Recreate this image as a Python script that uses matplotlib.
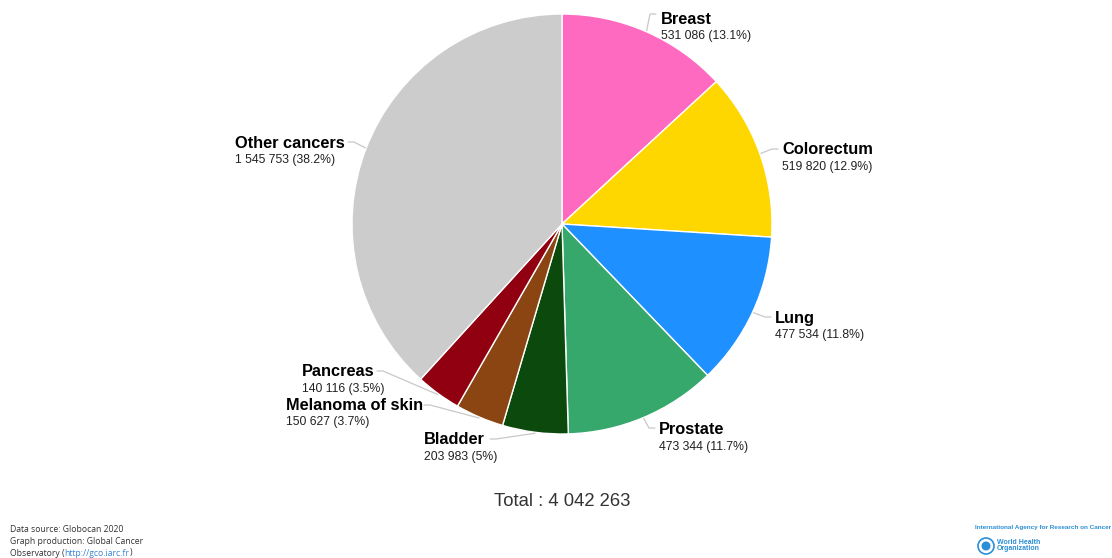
import matplotlib.pyplot as plt
import matplotlib.patches as mpatches
import numpy as np

plt.rcParams['font.family'] = ['Liberation Sans', 'DejaVu Sans']

cancers = ["Breast", "Colorectum", "Lung", "Prostate", "Bladder",
           "Melanoma of skin", "Pancreas", "Other cancers"]
cases = [531086, 519820, 477534, 473344, 203983, 150627, 140116, 1545753]
colors = ["#ff6ac1", "#ffd700", "#1e90ff", "#36a86c", "#0b4a0c",
          "#8b4513", "#900010", "#cccccc"]

W, H = 1112, 558


def Y(y):
    # pixel row -> data y
    return H - y


def fmt(n):
    return "{:,}".format(n).replace(",", " ")


total = sum(cases)
cx, cy, r = 562, Y(224), 210

fig = plt.figure(figsize=(W / 100, H / 100), dpi=100)
ax = fig.add_axes([0, 0, 1, 1])
ax.pie(cases, colors=colors, startangle=90, counterclock=False,
       center=(cx, cy), radius=r,
       wedgeprops=dict(edgecolor="white", linewidth=1))
ax.set_xlim(0, W)
ax.set_ylim(0, H)
ax.set_aspect("equal")
ax.axis("off")

# label anchors (left x, name row) and connector ends, in pixels
label_pos = [(661, 19), (782, 150), (775, 318), (659, 430),
             (424, 440), (286, 405), (302, 372), (235, 143)]
conn_end = [(656, 14), (778, 149), (771, 317), (655, 428),
            (490, 439), (424, 405), (377, 371), (348, 142)]

cum = np.cumsum([0] + cases[:-1])
for i, name in enumerate(cancers):
    mid = (cum[i] + cases[i] / 2) / total
    ang = np.deg2rad(90 - 360 * mid)
    ex, ey = cx + (r + 1) * np.cos(ang), cy + (r + 1) * np.sin(ang)
    kx, ky = conn_end[i]
    bx = kx + (6 if kx < cx else -6)
    ax.plot([ex, bx, kx], [ey, Y(ky), Y(ky)], color="#c8c8c8", lw=0.9,
            solid_capstyle="round")
    lx, ly = label_pos[i]
    pct = round(100 * cases[i] / total, 1)
    ax.text(lx, Y(ly), name, fontsize=11.8, fontweight="bold",
            color="black", va="center", ha="left")
    ax.text(lx, Y(ly + 17), "%s (%g%%)" % (fmt(cases[i]), pct),
            fontsize=8.8, color="#222222", va="center", ha="left")

ax.text(562, Y(502), "Total : " + fmt(total), fontsize=13.3,
        color="#333333", ha="center", va="center")

# footer
ff = ["Open Sans", "DejaVu Sans"]
foot = dict(fontsize=6.2, color="#333333", ha="left", va="center", family=ff)
ax.text(10, Y(529), "Data source: Globocan 2020", **foot)
ax.text(10, Y(541), "Graph production: Global Cancer", **foot)
t = ax.text(10, Y(553), "Observatory (", **foot)
t2 = ax.annotate("http://gco.iarc.fr", xycoords=t, xy=(1, 0), va="bottom",
                 fontsize=6.2, color="#3a86d6", family=ff)
ax.annotate(")", xycoords=t2, xy=(1, 0), va="bottom", fontsize=6.2,
            color="#333333", family=ff)

# IARC / WHO marks
blue = "#2b8fd6"
ax.text(1111, Y(527), "International Agency for Research on Cancer",
        fontsize=4.6, fontweight="bold", color=blue, ha="right", va="center")
ax.add_patch(mpatches.Circle((986, Y(546)), 8, facecolor="white",
                             edgecolor=blue, lw=1.2))
ax.add_patch(mpatches.Circle((986, Y(546)), 4.5, facecolor=blue,
                             edgecolor="none"))
ax.text(997, Y(542), "World Health", fontsize=5.0, fontweight="bold",
        color=blue, ha="left", va="center")
ax.text(997, Y(549), "Organization", fontsize=5.0, fontweight="bold",
        color=blue, ha="left", va="center")

fig.savefig("out.png", dpi=100)
